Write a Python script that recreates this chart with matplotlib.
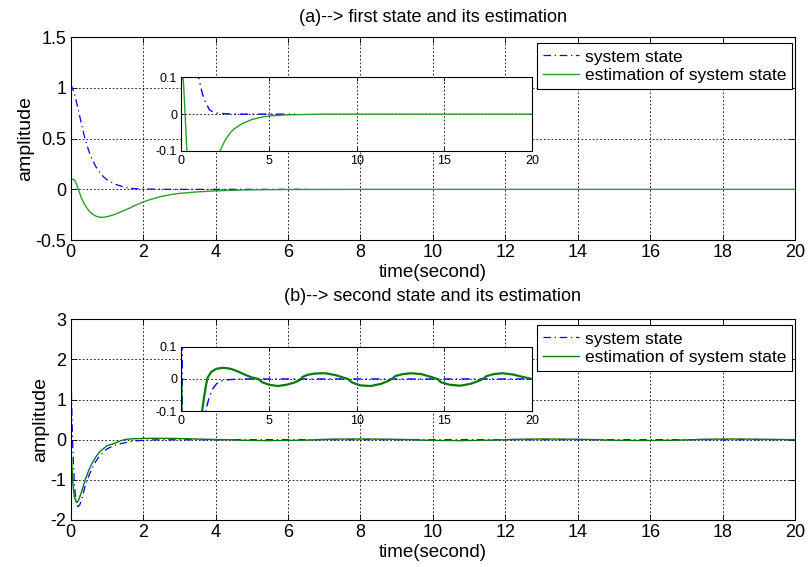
import matplotlib
matplotlib.use("Agg")
import matplotlib.pyplot as plt

plt.rcParams['font.family'] = ['Liberation Sans', 'DejaVu Sans']

# ---------------- data ----------------
# (a) first state
t1_sys = [0, 0.1, 0.2, 0.3, 0.4, 0.5, 0.6, 0.7, 0.8, 0.9, 1.0, 1.2, 1.4, 1.6, 1.8,
          2.0, 2.5, 3.0, 4.0, 5.0, 6.5]
x1_sys = [1.04, 0.95, 0.80, 0.64, 0.49, 0.38, 0.29, 0.22, 0.17, 0.125, 0.095, 0.055,
          0.03, 0.012, 0.006, 0.003, 0.001, 0, 0, 0, 0]
t1_est = [0, 0.05, 0.1, 0.15, 0.2, 0.25, 0.3, 0.4, 0.5, 0.6, 0.7, 0.8, 0.9, 1.0, 1.2,
          1.4, 1.6, 1.8, 2.0, 2.2, 2.5, 2.8, 3.0, 3.5, 4.0, 4.5, 5.0, 6.0, 8.0, 20]
x1_est = [0.092, 0.1, 0.095, 0.06, 0.01, -0.04, -0.09, -0.16, -0.21, -0.245, -0.265,
          -0.275, -0.276, -0.27, -0.25, -0.22, -0.19, -0.155, -0.125, -0.1, -0.07,
          -0.05, -0.04, -0.025, -0.015, -0.009, -0.005, -0.002, 0, 0]

# (b) second state
t2_sys = [0, 0.02, 0.05, 0.1, 0.15, 0.2, 0.25, 0.3, 0.4, 0.5, 0.6, 0.7, 0.8, 1.0,
          1.2, 1.4, 1.6, 1.8, 2.0, 2.2, 2.5, 3.0, 3.5, 20]
x2_sys = [2.0, 1.2, 0.0, -1.1, -1.55, -1.67, -1.62, -1.5, -1.15, -0.9, -0.7, -0.53,
          -0.4, -0.23, -0.14, -0.095, -0.055, -0.03, -0.015, -0.007, -0.003, -0.001,
          0, 0]
t2_est = [0, 0.03, 0.06, 0.1, 0.15, 0.18, 0.22, 0.3, 0.4, 0.5, 0.6, 0.7, 0.8, 1.0,
          1.18, 1.3, 1.4, 1.5, 1.7, 2.0, 2.4, 2.8, 3.2, 3.6, 4.0, 4.4, 4.6, 5.0, 5.5,
          6.0, 6.5, 6.8, 6.9, 7.2, 7.6, 8.2, 8.8, 9.2, 9.5, 9.7, 10.2, 10.8, 11.4,
          11.8, 12.0, 12.2, 12.6, 13.1, 13.7, 14.2, 14.6, 14.8, 15.3, 15.9, 16.5,
          17.0, 17.2, 17.4, 17.8, 18.3, 18.9, 19.5, 20]
x2_est = [0.0, -0.6, -1.1, -1.42, -1.55, -1.56, -1.5, -1.3, -1.0, -0.76, -0.57, -0.42,
          -0.3, -0.15, -0.1, -0.055, -0.02, 0.005, 0.022, 0.032, 0.035, 0.032, 0.024,
          0.014, 0.005, 0.0, -0.01, -0.018, -0.022, -0.018, -0.01, -0.002, 0.006,
          0.013, 0.017, 0.018, 0.012, 0.005, 0.0, -0.01, -0.02, -0.022, -0.015,
          -0.006, 0.0, 0.009, 0.015, 0.018, 0.015, 0.007, 0.0, -0.01, -0.018, -0.021,
          -0.015, -0.005, 0.0, 0.009, 0.015, 0.018, 0.014, 0.006, 0.0]

xticks_main = [0, 2, 4, 6, 8, 10, 12, 14, 16, 18, 20]
yticks_a = [-0.5, 0, 0.5, 1, 1.5]
yticklabels_a = ['-0.5', '0', '0.5', '1', '1.5']
yticks_b = [-2, -1, 0, 1, 2, 3]
yticklabels_b = ['-2', '-1', '0', '1', '2', '3']
xticks_in = [0, 5, 10, 15, 20]
yticks_in = [-0.1, 0, 0.1]
yticklabels_in = ['-0.1', '0', '0.1']

titles = ['(a)--> first state and its estimation', '(b)--> second state and its estimation']
legend_labels = ['system state', 'estimation of system state']

blue = '#0000ff'
green_a = '#2a9e2a'
green_b = '#0a7a0a'

fig = plt.figure(figsize=(8.08, 5.67), dpi=100)


def style(ax, fs):
    ax.grid(True, color='black', linestyle=(0, (2, 2.5)), linewidth=0.6)
    ax.tick_params(direction='in', top=True, right=True, length=4, width=0.6,
                   labelsize=fs, pad=3)
    for s in ax.spines.values():
        s.set_linewidth(0.8)


def panel(rect, inrect, ts, xs, te, xe, green, ylim, yt, ytl, title, est_lw_in,
          title_pad):
    ax = fig.add_axes(rect)
    l1, = ax.plot(ts, xs, color=blue, linestyle=(0, (6, 3, 1, 3)), linewidth=0.9)
    l2, = ax.plot(te, xe, color=green, linestyle='-', linewidth=1.0)
    ax.set_xlim(0, 20)
    ax.set_ylim(*ylim)
    ax.set_xticks(xticks_main)
    ax.set_yticks(yt)
    ax.set_yticklabels(ytl)
    style(ax, 13)
    ax.set_xlabel('time(second)', fontsize=13.5, labelpad=2)
    ax.set_ylabel('amplitude', fontsize=14, labelpad=1)
    ax.set_title(title, fontsize=13, pad=title_pad)
    h_px = rect[3] * 567
    w_px = rect[2] * 808
    leg = ax.legend([l1, l2], legend_labels, loc='upper right', fontsize=12.5,
                    bbox_to_anchor=(1 - 3 / w_px, 1 - 6 / h_px),
                    fancybox=False, framealpha=1, edgecolor='black',
                    handlelength=2.1, borderaxespad=0, borderpad=0.35,
                    labelspacing=0.2, handletextpad=0.3)
    leg.get_frame().set_linewidth(0.8)

    ai = fig.add_axes(inrect)
    ai.plot(ts, xs, color=blue, linestyle=(0, (6, 3, 1, 3)), linewidth=1.0)
    ai.plot(te, xe, color=green, linestyle='-', linewidth=est_lw_in)
    ai.set_xlim(0, 20)
    ai.set_ylim(-0.1, 0.1)
    ai.set_xticks(xticks_in)
    ai.set_yticks(yticks_in)
    ai.set_yticklabels(yticklabels_in)
    style(ai, 9)
    ai.tick_params(length=3)
    return ax, ai


panel([0.0875, 0.5767, 0.8965, 0.3575], [0.2245, 0.7337, 0.434, 0.1300],
      t1_sys, x1_sys, t1_est, x1_est, green_a, (-0.5, 1.5),
      yticks_a, yticklabels_a, titles[0], 1.0, 11)
panel([0.0875, 0.0829, 0.8965, 0.3540], [0.2245, 0.2751, 0.434, 0.1130],
      t2_sys, x2_sys, t2_est, x2_est, green_b, (-2, 3),
      yticks_b, yticklabels_b, titles[1], 1.6, 13)

fig.savefig('out.png', dpi=100)
